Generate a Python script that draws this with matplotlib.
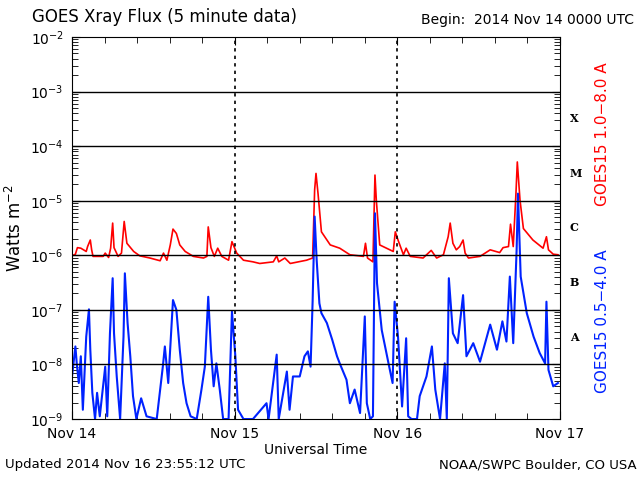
import numpy as np
import matplotlib
matplotlib.use("Agg")
import matplotlib.pyplot as plt
from matplotlib.ticker import LogLocator, NullFormatter, FixedLocator

# hours since 2014 Nov 14 00:00 UTC, log10 flux (W m^-2)
long_hours = [0, 0.5, 0.8, 1.3, 2.1, 2.3, 2.7, 2.9, 3.1, 4.6, 4.9, 5.4, 5.7, 6.0, 6.2, 6.8, 7.3, 7.7, 8.1,
              9.1, 10.0, 11.5, 13.0, 13.5, 14.0, 14.5, 14.9, 15.4, 15.9, 16.7, 17.9, 19.4, 19.9, 20.1, 20.5,
              21.0, 21.5, 22.1, 23.1, 23.6, 24.3, 25.3, 26.7, 27.7, 29.7, 30.2, 30.5, 31.4, 32.2, 34.6,
              35.5, 35.8, 36.0, 36.3, 36.8, 38.1, 39.5, 41.0, 43.0, 43.3, 43.6, 44.4, 44.7, 44.9, 45.4,
              47.4, 47.7, 48.1, 48.9, 49.3, 49.9, 51.8, 53.0, 53.8, 54.8, 55.5, 55.8, 56.2, 56.7, 57.2,
              57.7, 58.0, 58.5, 60.2, 61.7, 63.1, 63.6, 64.4, 64.7, 65.1, 65.5, 65.7, 66.1, 66.6, 68.0,
              69.5, 70.0, 70.3, 71.0, 71.7]
long_log = [-6.01, -5.98, -5.86, -5.87, -5.93, -5.84, -5.72, -5.90, -6.02, -6.02, -5.96, -6.04, -5.87, -5.41,
            -5.86, -6.02, -5.96, -5.38, -5.78, -5.93, -6.01, -6.05, -6.10, -5.96, -6.09, -5.81, -5.52, -5.60,
            -5.81, -5.93, -6.02, -6.05, -6.02, -5.48, -5.86, -6.02, -5.87, -6.02, -6.09, -5.75, -5.96, -6.09,
            -6.12, -6.15, -6.12, -6.01, -6.12, -6.05, -6.15, -6.09, -6.05, -4.80, -4.50, -4.87, -5.57, -5.81,
            -5.87, -5.99, -6.02, -5.78, -6.05, -6.12, -4.53, -4.99, -5.81, -5.93, -5.57, -5.72, -5.99, -5.87,
            -6.02, -6.05, -5.91, -6.05, -5.99, -5.66, -5.41, -5.78, -5.90, -5.84, -5.72, -5.96, -6.05, -6.02,
            -5.90, -5.95, -5.86, -5.84, -5.43, -5.84, -4.87, -4.29, -4.99, -5.51, -5.72, -5.87, -5.66, -5.90,
            -5.98, -5.99]

short_hours = [0, 0.5, 0.7, 1.0, 1.3, 1.6, 2.1, 2.5, 2.7, 3.0, 3.4, 3.7, 4.1, 4.9, 5.2, 5.6, 6.0, 6.2, 6.6,
               7.1, 7.6, 7.8, 8.2, 8.6, 9.0, 9.5, 10.2, 11.0, 12.5, 13.4, 13.7, 14.2, 14.9, 15.4, 15.9, 16.4,
               16.9, 17.5, 18.4, 19.1, 19.6, 20.1, 20.5, 20.9, 21.3, 21.8, 22.3, 23.1, 23.6, 24.1, 24.5, 25.3,
               26.7, 28.7, 29.0, 30.2, 30.5, 31.7, 32.1, 32.6, 33.6, 34.3, 34.8, 35.2, 35.5, 35.8, 36.1, 36.5,
               36.8, 37.6, 38.4, 39.1, 39.5, 40.5, 41.0, 41.7, 42.5, 43.2, 43.5, 44.0, 44.4, 44.7, 45.0, 45.7,
               46.7, 47.3, 47.6, 48.1, 48.7, 49.3, 49.6, 50.1, 50.9, 51.3, 52.3, 53.1, 53.6, 54.3, 55.0, 55.3,
               55.6, 56.2, 56.9, 57.7, 58.2, 59.2, 60.2, 61.7, 62.7, 63.5, 64.1, 64.6, 65.1, 65.6, 65.8, 66.2,
               67.1, 68.1, 69.0, 69.8, 70.0, 70.3, 71.0, 71.7]
short_log = [-8.22, -7.67, -7.98, -8.34, -7.85, -8.83, -7.49, -6.99, -7.73, -8.52, -9.0, -8.52, -8.95, -8.04,
             -8.95, -7.43, -6.42, -7.43, -8.22, -9.0, -7.49, -6.33, -7.24, -7.85, -8.58, -9.0, -8.62, -8.95,
             -9.0, -8.04, -7.67, -8.34, -6.82, -7.0, -7.73, -8.34, -8.71, -8.95, -9.0, -8.46, -8.04, -6.76,
             -7.73, -8.40, -7.98, -8.46, -9.0, -9.0, -7.03, -7.85, -8.83, -9.0, -9.0, -8.71, -9.0, -7.82, -9.0,
             -8.13, -8.83, -8.22, -8.22, -7.85, -7.76, -8.04, -6.85, -5.29, -6.09, -6.88, -7.06, -7.24, -7.55,
             -7.85, -7.98, -8.28, -8.71, -8.46, -8.89, -7.12, -8.71, -9.0, -8.95, -5.23, -6.51, -7.37, -7.98,
             -8.34, -6.85, -7.49, -8.77, -7.52, -8.95, -9.0, -9.0, -8.58, -8.22, -7.67, -8.46, -9.0, -7.98,
             -9.0, -6.42, -7.43, -7.61, -6.73, -7.85, -7.61, -7.95, -7.27, -7.73, -7.21, -7.58, -6.39, -7.61,
             -5.90, -4.87, -6.39, -7.06, -7.49, -7.79, -7.98, -6.85, -8.10, -8.40, -8.34]

day_labels = ["Nov 14", "Nov 15", "Nov 16", "Nov 17"]
class_labels = ["X", "M", "C", "B", "A"]
class_pos = [-3.5, -4.5, -5.5, -6.5, -7.5]

plt.rcParams['font.family'] = ['DejaVu Sans']
fig = plt.figure(figsize=(6.4, 4.8), dpi=100)
ax = fig.add_axes([0.1125, 0.127, 0.7625, 0.796])

lh = np.array(long_hours); ll = 10.0 ** np.array(long_log)
sh = np.array(short_hours); sl = 10.0 ** np.array(short_log)
ax.plot(lh, ll, color='#ff0000', lw=1.2)
ax.plot(sh, sl, color='#0022ff', lw=1.5)

ax.set_yscale('log')
ax.set_ylim(1e-9, 1e-2)
ax.set_xlim(0, 72)
for e in range(-8, -2):
    ax.axhline(10.0 ** e, color='black', lw=1)
for d in (24, 48):
    ax.axvline(d, color='black', lw=1.2, ls=(0, (2, 2.5)))

ax.set_xticks([0, 24, 48, 72])
ax.set_xticklabels(day_labels, fontsize=10)
ax.xaxis.set_minor_locator(FixedLocator(np.arange(0, 72.1, 4.8)))
ax.yaxis.set_major_locator(LogLocator(base=10, numticks=12))
ax.yaxis.set_minor_locator(LogLocator(base=10, subs=np.arange(2, 10), numticks=12))
ax.yaxis.set_minor_formatter(NullFormatter())
ax.tick_params(which='both', direction='in', top=True, right=True, labelsize=10, pad=6)
ax.tick_params(which='major', length=6)
ax.tick_params(which='minor', length=4)
ax.set_xlabel("Universal Time", fontsize=10, labelpad=1)
ax.set_ylabel("Watts m$^{-2}$", fontsize=12)

for lab, p in zip(class_labels, class_pos):
    ax.text(1.02, (p + 9) / 7, lab, transform=ax.transAxes, fontsize=8, fontweight='bold',
            family='serif', va='center')
fig.text(0.93, 0.72, "GOES15 1.0\u22128.0 A", color='#ff0000', rotation=90, fontsize=11, va='center')
fig.text(0.93, 0.33, "GOES15 0.5\u22124.0 A", color='#0022ff', rotation=90, fontsize=11, va='center')

fig.text(0.05, 0.955, "GOES Xray Flux (5 minute data)", fontsize=12)
fig.text(0.99, 0.95, "Begin:  2014 Nov 14 0000 UTC", fontsize=10, ha='right')
fig.text(0.008, 0.025, "Updated 2014 Nov 16 23:55:12 UTC", fontsize=9.5)
fig.text(0.995, 0.025, "NOAA/SWPC Boulder, CO USA", fontsize=9.5, ha='right')

fig.savefig("out.png", dpi=100)
